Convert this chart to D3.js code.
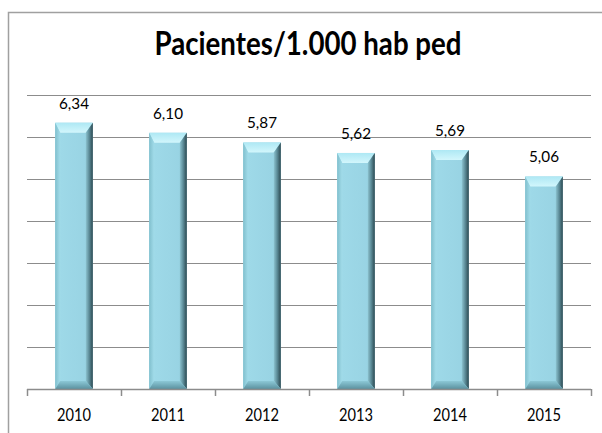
<!DOCTYPE html>
<html><head><meta charset="utf-8">
<script src="https://cdn.jsdelivr.net/npm/d3@7"></script>
<style>html,body{margin:0;padding:0;background:#fff;}svg{display:block;}</style>
</head><body>
<svg id="c" width="602" height="433"></svg>
<script>
const categories = ["2010","2011","2012","2013","2014","2015"];
const values = [6.34, 6.10, 5.87, 5.62, 5.69, 5.06];
const yTicks = [0,1,2,3,4,5,6,7];
const title = "Pacientes/1.000 hab ped";

const svg = d3.select("#c");
const W = 602, H = 433;
const m = {left:27, right:602-591, top:95, bottom:433-389};
const x = d3.scaleBand().domain(categories).range([m.left, W-m.right]).paddingInner(0.6).paddingOuter(0.3);
const y = d3.scaleLinear().domain([0,7]).range([H-m.bottom, m.top]);

// frame
svg.append("path").attr("d","M8.5,433 V12.5 H602").attr("fill","none").attr("stroke","#a0a0a0").attr("stroke-width",1.5);

// title
svg.append("text").attr("x",308).attr("y",55).attr("text-anchor","middle")
  .attr("font-family","Lato, 'Open Sans', sans-serif").attr("font-weight","bold").attr("font-size",32)
  .attr("textLength",307).attr("lengthAdjust","spacingAndGlyphs").attr("fill","#000").text(title);

// gridlines
svg.append("g").selectAll("line").data(yTicks.filter(d=>d>0)).join("line")
  .attr("x1",m.left).attr("x2",W-m.right).attr("y1",d=>Math.round(y(d))+0.5).attr("y2",d=>Math.round(y(d))+0.5)
  .attr("stroke","#8c8c8c").attr("stroke-width",1);

// gradients
const defs = svg.append("defs");
function lg(id, x1,y1,x2,y2, stops){
  const g = defs.append("linearGradient").attr("id",id).attr("x1",x1).attr("y1",y1).attr("x2",x2).attr("y2",y2);
  stops.forEach(s=>g.append("stop").attr("offset",s[0]).attr("stop-color",s[1]));
}
lg("gTop",0,0,0,1,[[0,"#aee8f4"],[1,"#d2f6fc"]]);
lg("gLeft",0,0,1,0,[[0,"#80bfcd"],[1,"#a2dcea"]]);
lg("gRight",0,0,1,0,[[0,"#8cc3d0"],[0.5,"#5a8995"],[1,"#2c4850"]]);
lg("gBot",0,0,0,1,[[0,"#8cc8d6"],[1,"#5b919f"]]);
lg("gFace",0,0,1,0,[[0,"#9fdae9"],[1,"#97d2e2"]]);

const bars = svg.append("g").selectAll("g").data(categories.map((c,i)=>({c, v:values[i]}))).join("g");
const bev = 10, side = 5, bot = 8;
bars.each(function(d){
  const g = d3.select(this);
  const x0 = x(d.c), x1 = x0 + x.bandwidth(), y0 = y(d.v), y1 = y(0);
  g.append("rect").attr("x",x0).attr("y",y0).attr("width",x1-x0).attr("height",y1-y0).attr("fill","url(#gFace)");
  g.append("polygon").attr("points",[[x0,y0],[x1,y0],[x1-side-2,y0+bev],[x0+side,y0+bev]].join(" ")).attr("fill","url(#gTop)");
  g.append("polygon").attr("points",[[x0,y0],[x0+side,y0+bev],[x0+side,y1-bot],[x0,y1]].join(" ")).attr("fill","url(#gLeft)");
  g.append("polygon").attr("points",[[x1,y0],[x1,y1],[x1-side-2,y1-bot],[x1-side-2,y0+bev]].join(" ")).attr("fill","url(#gRight)");
  g.append("polygon").attr("points",[[x0,y1],[x0+side,y1-bot],[x1-side-2,y1-bot],[x1,y1]].join(" ")).attr("fill","url(#gBot)");
});

// labels
const fmt = d3.format(".2f");
svg.append("g").selectAll("text").data(categories.map((c,i)=>({c, v:values[i]}))).join("text")
  .attr("x",d=>x(d.c)+x.bandwidth()/2).attr("y",d=>y(d.v)-14).attr("text-anchor","middle")
  .attr("font-family","Lato, 'Open Sans', sans-serif").attr("font-size",16).attr("fill","#000")
  .attr("textLength",30).attr("lengthAdjust","spacingAndGlyphs")
  .text(d=>fmt(d.v).replace(".",","));

// x axis
const xAxisG = svg.append("g");
xAxisG.append("line").attr("x1",m.left).attr("x2",W-m.right).attr("y1",y(0)+0.5).attr("y2",y(0)+0.5).attr("stroke","#8c8c8c").attr("stroke-width",1.5);
const bounds = categories.map(c=>x(c) - (x.step()-x.bandwidth())/2).concat([W-m.right]);
xAxisG.selectAll("line.t").data(bounds).join("line").attr("class","t")
  .attr("x1",d=>Math.round(d)+0.5).attr("x2",d=>Math.round(d)+0.5).attr("y1",y(0)).attr("y2",y(0)+7)
  .attr("stroke","#8c8c8c").attr("stroke-width",1.5);
xAxisG.selectAll("text").data(categories).join("text")
  .attr("x",d=>x(d)+x.bandwidth()/2).attr("y",421).attr("text-anchor","middle")
  .attr("font-family","Lato, 'Open Sans', sans-serif").attr("font-size",16.5).attr("fill","#000")
  .attr("textLength",34).attr("lengthAdjust","spacingAndGlyphs").text(d=>d);
</script>
</body></html>
